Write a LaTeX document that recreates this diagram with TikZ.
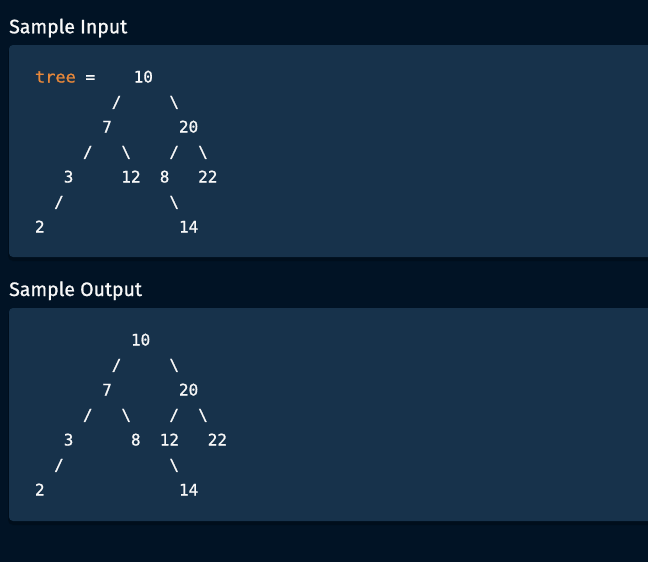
\documentclass[tikz,border=0pt]{standalone}
\usepackage{fontspec}
\newfontfamily\codefont[FakeBold=0.9]{DejaVu Sans Mono}
\newfontfamily\headfont[FakeBold=1]{Fira Sans}
\definecolor{pagebg}{HTML}{011325}
\definecolor{boxbg}{HTML}{17324B}
\definecolor{codewhite}{HTML}{F8F8F8}
\definecolor{kworange}{HTML}{E8883A}
\begin{document}
\begin{tikzpicture}[x=1pt,y=-1pt,
  code/.style={font=\codefont\fontsize{16}{18}\selectfont, text=codewhite, inner sep=0pt, anchor=base},
  heading/.style={font=\headfont\fontsize{19.5}{22}\selectfont, text=codewhite, inner sep=0pt, anchor=base west},
  panel/.style={fill=boxbg, rounded corners=4pt},
  shade/.style={fill=black, opacity=0.22, rounded corners=5pt}]
\useasboundingbox (0,0) rectangle (648,562);
\clip (0,0) rectangle (648,562);
\fill[pagebg] (0,0) rectangle (648,562);
% panels
\fill[shade] (8,47) rectangle (660,261);
\fill[panel] (9,45) rectangle (660,257);
\fill[shade] (8,310) rectangle (660,525);
\fill[panel] (9,308) rectangle (660,521);
% headings
\node[heading] (hin) at (9,33.3) {Sample Input};
\node[heading] (hout) at (9,296) {Sample Output};
% ---- input tree
\node[code, text=kworange] (itree) at (55.4,82.5) {\scalebox{1.06}[1]{tree}};
\node[code] (ieq) at (90.3,82.5) {=};
\node[code] (i10) at (143.3,82.5) {10};
\node[code] (is1) at ({35+8.5*9.6},107.5) {/};
\node[code] (ib1) at ({35+14.5*9.6},107.5) {\textbackslash};
\node[code] (i7) at ({35+7.5*9.6},132.5) {7};
\node[code] (i20) at ({35+16*9.6},132.5) {20};
\node[code] (is2) at ({35+5.5*9.6},157.5) {/};
\node[code] (ib2) at ({35+9.5*9.6},157.5) {\textbackslash};
\node[code] (is3) at ({35+14.5*9.6},157.5) {/};
\node[code] (ib3) at ({35+17.5*9.6},157.5) {\textbackslash};
\node[code] (i3) at ({35+3.5*9.6},182.5) {3};
\node[code] (i12) at ({35+10*9.6},182.5) {12};
\node[code] (i8) at ({35+13.5*9.6},182.5) {8};
\node[code] (i22) at ({35+18*9.6},182.5) {22};
\node[code] (is4) at ({35+2.5*9.6},207.5) {/};
\node[code] (ib4) at ({35+14.5*9.6},207.5) {\textbackslash};
\node[code] (i2) at ({35+0.5*9.6},232.5) {2};
\node[code] (i14) at ({35+16*9.6},232.5) {14};
% ---- output tree
\node[code] (o10) at ({35+11*9.6},345.5) {10};
\node[code] (os1) at ({35+8.5*9.6},370.5) {/};
\node[code] (ob1) at ({35+14.5*9.6},370.5) {\textbackslash};
\node[code] (o7) at ({35+7.5*9.6},395.5) {7};
\node[code] (o20) at ({35+16*9.6},395.5) {20};
\node[code] (os2) at ({35+5.5*9.6},420.5) {/};
\node[code] (ob2) at ({35+9.5*9.6},420.5) {\textbackslash};
\node[code] (os3) at ({35+14.5*9.6},420.5) {/};
\node[code] (ob3) at ({35+17.5*9.6},420.5) {\textbackslash};
\node[code] (o3) at ({35+3.5*9.6},445.5) {3};
\node[code] (o8) at ({35+10.5*9.6},445.5) {8};
\node[code] (o12) at ({35+14*9.6},445.5) {12};
\node[code] (o22) at ({35+19*9.6},445.5) {22};
\node[code] (os4) at ({35+2.5*9.6},470.5) {/};
\node[code] (ob4) at ({35+14.5*9.6},470.5) {\textbackslash};
\node[code] (o2) at ({35+0.5*9.6},495.5) {2};
\node[code] (o14) at ({35+16*9.6},495.5) {14};
\end{tikzpicture}
\end{document}
